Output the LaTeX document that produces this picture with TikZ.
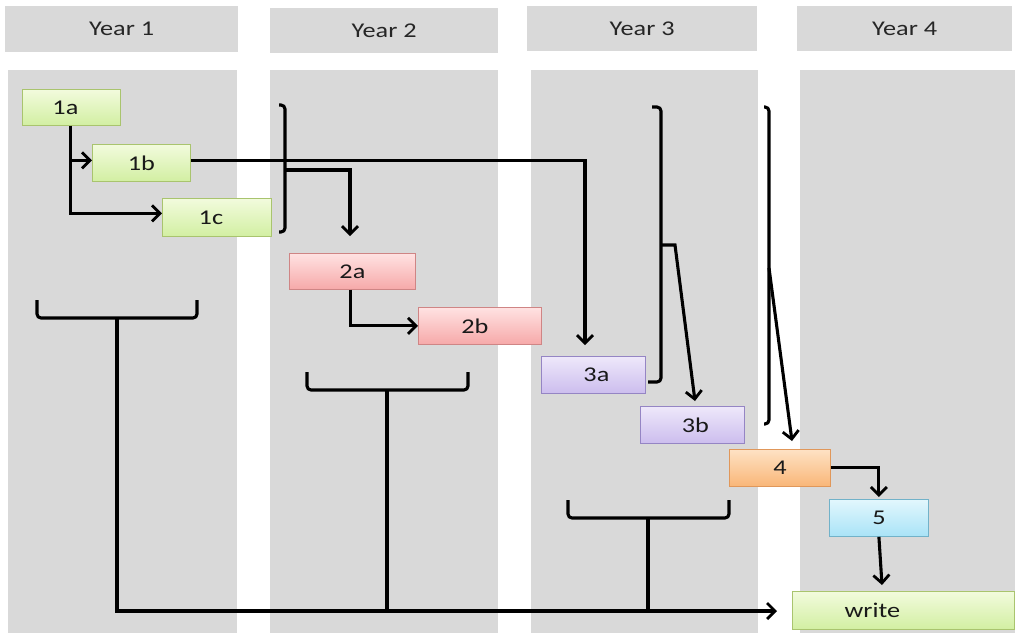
\documentclass[tikz,border=0pt]{standalone}
\usepackage{fontspec}
\setmainfont{Carlito}[FakeStretch=1.25]
\usetikzlibrary{arrows.meta}
\definecolor{bg}{HTML}{D9D9D9}
\definecolor{gTop}{HTML}{F2FBDD}\definecolor{gBot}{HTML}{D2EFA2}\definecolor{gLine}{HTML}{A9C46E}
\definecolor{rTop}{HTML}{FFE2E2}\definecolor{rBot}{HTML}{F6A9A9}\definecolor{rLine}{HTML}{CF8585}
\definecolor{pTop}{HTML}{EEE8FA}\definecolor{pBot}{HTML}{CCBDEE}\definecolor{pLine}{HTML}{9585C4}
\definecolor{oTop}{HTML}{FEE2C4}\definecolor{oBot}{HTML}{F9B678}\definecolor{oLine}{HTML}{E0975A}
\definecolor{bTop}{HTML}{E2F7FD}\definecolor{bBot}{HTML}{A9E3F7}\definecolor{bLine}{HTML}{72B2C9}
\begin{document}
\begin{tikzpicture}[x=1pt,y=-1pt,
  hdr/.style={fill=bg,anchor=north west,inner sep=0pt,font=\fontsize{21}{24}\selectfont,text=black!85},
  box/.style={anchor=north west,inner sep=0pt,line width=0.8pt,font=\fontsize{21}{24}\selectfont,text=black!90},
  gbox/.style={box,draw=gLine,top color=gTop,bottom color=gBot},
  rbox/.style={box,draw=rLine,top color=rTop,bottom color=rBot},
  pbox/.style={box,draw=pLine,top color=pTop,bottom color=pBot},
  obox/.style={box,draw=oLine,top color=oTop,bottom color=oBot},
  bbox/.style={box,draw=bLine,top color=bTop,bottom color=bBot},
  conn/.style={line width=3.1pt,black},
  arr/.style={conn,-{Straight Barb[length=8pt,width=16pt,line width=2.8pt]}},
  brk/.style={conn,rounded corners=4pt}
]
\useasboundingbox (0,0) rectangle (1015,633);
\fill[white] (0,0) rectangle (1015,633);
% columns
\fill[bg] (8,70) rectangle (237,633);
\fill[bg] (270,70) rectangle (498,633);
\fill[bg] (531,70) rectangle (758,633);
\fill[bg] (800,70) rectangle (1015,633);
% headers
\node[hdr,minimum width=233pt,minimum height=46pt] (h1) at (5,6) {Year 1};
\node[hdr,minimum width=228pt,minimum height=45pt] (h2) at (270,8) {Year 2};
\node[hdr,minimum width=230pt,minimum height=45pt] (h3) at (527,6) {Year 3};
\node[hdr,minimum width=215pt,minimum height=45pt] (h4) at (797,6) {Year 4};
% boxes
\node[gbox,minimum width=98pt,minimum height=36pt] (n1a) at (22,89) {1a\hspace*{12pt}};
\node[gbox,minimum width=98pt,minimum height=37pt] (n1b) at (92,144) {1b};
\node[gbox,minimum width=109pt,minimum height=38pt] (n1c) at (162,198) {1c\hspace*{12pt}};
\node[rbox,minimum width=126pt,minimum height=36pt] (n2a) at (289,253) {2a};
\node[rbox,minimum width=123pt,minimum height=37pt] (n2b) at (418,307) {2b\hspace*{10pt}};
\node[pbox,minimum width=104pt,minimum height=37pt] (n3a) at (541,356) {\hspace*{6pt}3a};
\node[pbox,minimum width=104pt,minimum height=37pt] (n3b) at (640,406) {\hspace*{6pt}3b};
\node[obox,minimum width=101pt,minimum height=37pt] (n4) at (729,449) {4};
\node[bbox,minimum width=99pt,minimum height=37pt] (n5) at (829,499) {5};
\node[gbox,minimum width=222pt,minimum height=38pt] (nw) at (792,591) {write\hspace*{62pt}};
% coordinates
\coordinate (t3a) at (585,345);
\coordinate (m1) at (285,170);
\coordinate (t2a) at (350,236);
\coordinate (m3) at (661,245);
\coordinate (k3) at (675,245);
\coordinate (t3b) at (695,401);
\coordinate (m4) at (769,268);
\coordinate (t4) at (792,441);
\coordinate (tw) at (882,585);
\coordinate (b1) at (117,318);
\coordinate (b2) at (387,390);
\coordinate (b3) at (648,518);
\coordinate (e1) at (387,611);
\coordinate (e2) at (648,611);
\coordinate (ew) at (777,611);
% brackets
\draw[brk] (279,105) -- (285,105) -- (285,232) -- (279,232);
\draw[brk] (652,107) -- (661,107) -- (661,382) -- (648,382);
\draw[brk] (764,107) -- (769,107) -- (769,424) -- (764,424);
% braces
\draw[brk] (37,300) |- (b1) -| (197,300);
\draw[brk] (307,372) |- (b2) -| (468,372);
\draw[brk] (568,500) |- (b3) -| (729,500);
% connectors
\draw[arr] ([xshift=-1pt]n1a.south) |- ([yshift=2.5pt]n1b.west);
\draw[arr] ([xshift=-1pt]n1a.south) |- ([yshift=4pt]n1c.west);
\draw[arr] ([yshift=2.5pt]n1b.east) -| (t3a);
\draw[arr] (m1) -| (t2a);
\draw[arr] ([xshift=-2pt]n2a.south) |- (n2b.west);
\draw[arr] (m3) -- (k3) -- (t3b);
\draw[arr] (m4) -- (t4);
\draw[arr] (n4.east) -| ([yshift=2pt]n5.north);
\draw[arr] (n5.south) -- (tw);
\draw[arr] (b1) |- (ew);
\draw[conn] (b2) -- (e1);
\draw[conn] (b3) -- (e2);
\end{tikzpicture}
\end{document}
